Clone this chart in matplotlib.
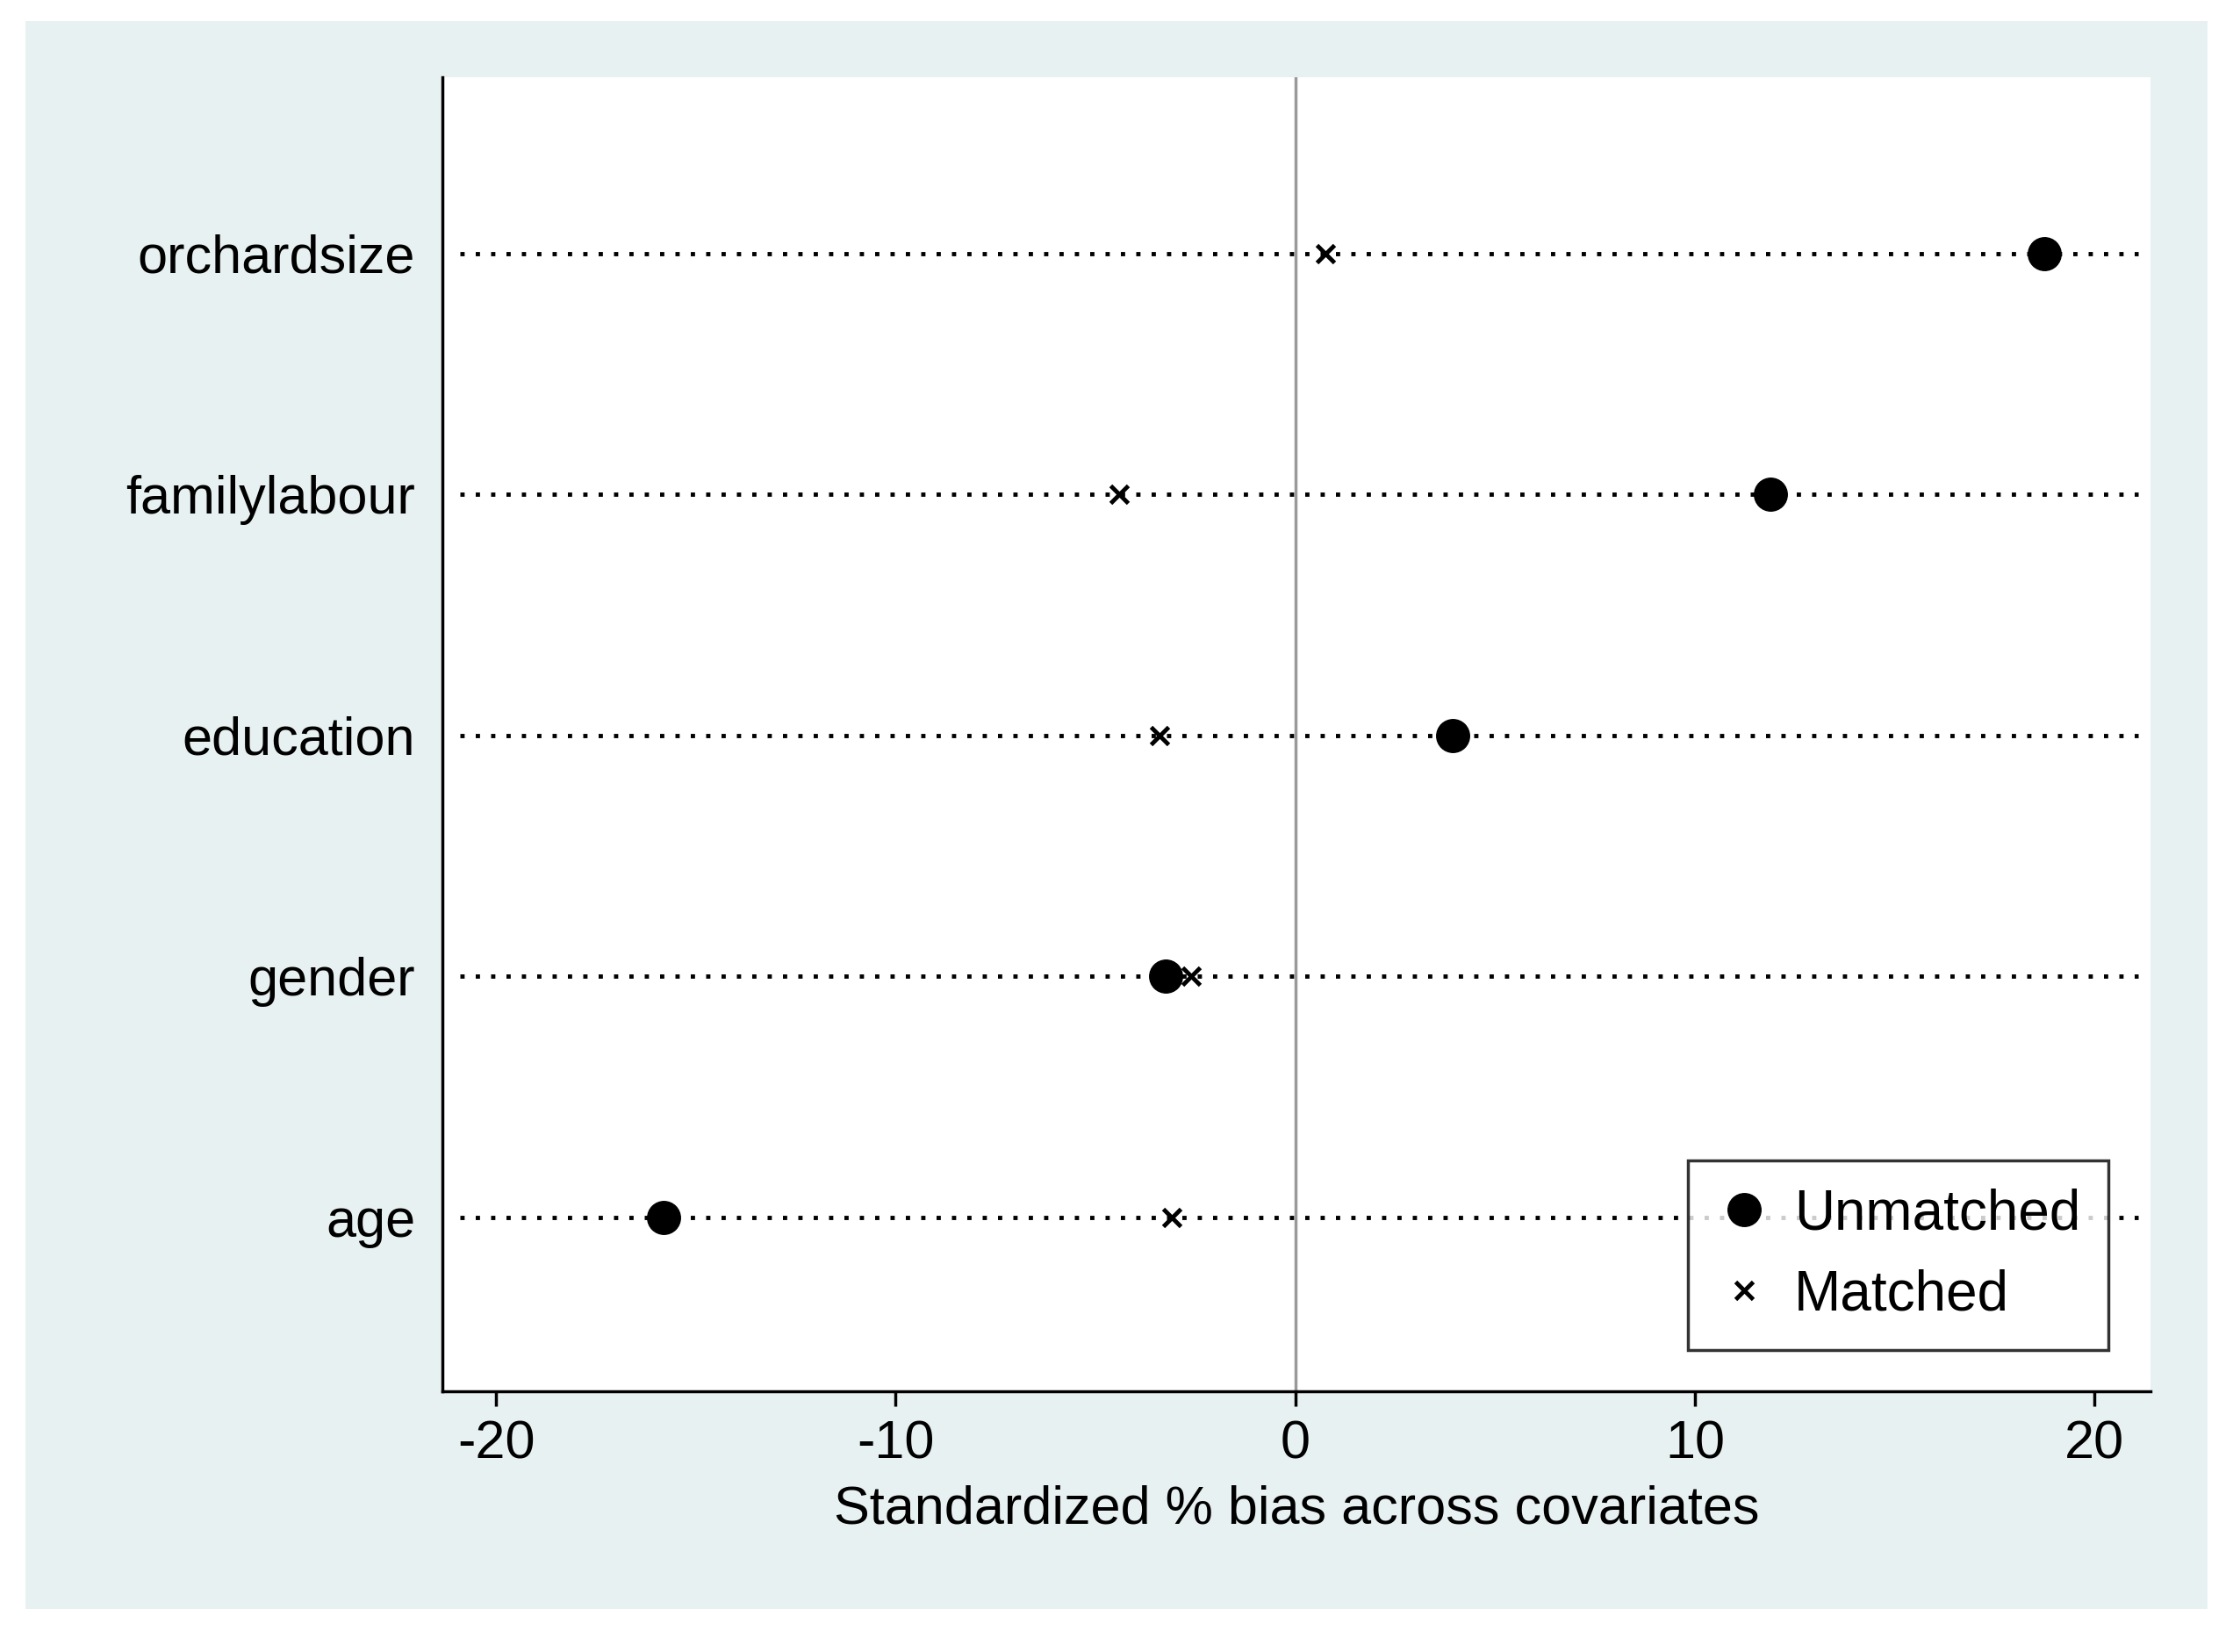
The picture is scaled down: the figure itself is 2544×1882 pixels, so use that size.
import matplotlib.pyplot as plt
from matplotlib.patches import Rectangle

covariates = ["age", "gender", "education", "familylabour", "orchardsize"]
unmatched = [-15.8, -3.25, 3.95, 11.9, 18.75]
matched = [-3.1, -2.6, -3.4, -4.4, 0.75]
xticks = [-20, -10, 0, 10, 20]

plt.rcParams["font.family"] = "Liberation Sans"
plt.rcParams["axes.unicode_minus"] = False
fig = plt.figure(figsize=(25.44, 18.82), dpi=100)
fig.patches.append(Rectangle((0.0115, 0.026), 0.977, 0.961, transform=fig.transFigure,
                             facecolor="#e8f1f1", edgecolor="none", zorder=-10))
ax = fig.add_axes([0.198, 0.158, 0.765, 0.795])
ax.set_facecolor("white")

ys = range(1, len(covariates) + 1)
for y in ys:
    ax.plot([-20.9, 21.1], [y, y], linestyle=(0, (1, 2.6)), color="black", lw=3.5, zorder=1)
ax.axvline(0, color="#999999", lw=2.5, zorder=0)
ax.plot(unmatched, ys, "o", color="black", markersize=27, linestyle="none", label="Unmatched", zorder=3)
ax.plot(matched, ys, "x", color="black", markersize=15, mew=3.5, linestyle="none", label="Matched", zorder=3)

ax.set_xlim(-21.35, 21.4)
ax.set_ylim(0.28, 5.73)
ax.set_yticks(list(ys))
ax.set_yticklabels(covariates)
ax.set_xticks(xticks)
ax.tick_params(axis="both", labelsize=44, length=12, width=2.5)
ax.tick_params(axis="x", pad=12)
ax.tick_params(axis="y", length=0, pad=22)
ax.set_xlabel("Standardized % bias across covariates", fontsize=44, labelpad=12)
for s in ["top", "right"]:
    ax.spines[s].set_visible(False)
for s in ["left", "bottom"]:
    ax.spines[s].set_linewidth(2.5)

leg = ax.legend(loc="lower right", bbox_to_anchor=(0.992, 0.01), fontsize=46, frameon=True,
                fancybox=False, edgecolor="black", handletextpad=0.4, handlelength=1.0,
                borderpad=0.5, labelspacing=0.5)
leg.get_frame().set_linewidth(2.5)

fig.savefig("out.png", dpi=100)
